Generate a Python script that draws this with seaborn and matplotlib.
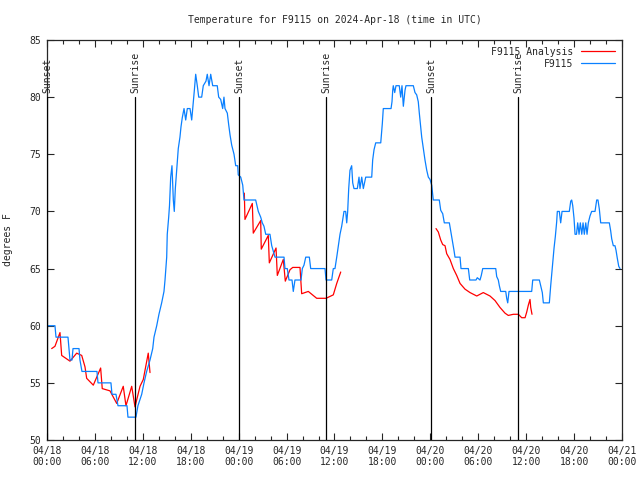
import pandas as pd
import numpy as np
import seaborn as sns
import matplotlib.pyplot as plt
import matplotlib.dates as mdates

# hours after 2024-04-18 00:00 UTC
blue_h = [0, 1.00, 1.13, 2.63, 2.75, 2.88, 3.13, 3.26, 4.01, 4.13, 4.38, 6.26, 6.39, 8.01, 8.14,
          8.64, 8.89, 10.02, 10.14, 11.14, 11.39, 11.86, 12.15, 12.48, 12.90, 13.24, 13.40, 13.74,
          14.02, 14.36, 14.65, 14.78, 14.99, 15.06, 15.24, 15.34, 15.49, 15.65, 15.82, 15.94, 16.07,
          16.24, 16.44, 16.65, 16.78, 16.94, 17.16, 17.37, 17.57, 17.91, 18.12, 18.32, 18.44, 18.62,
          18.82, 19.00, 19.37, 19.57, 19.91, 20.07, 20.29, 20.50, 20.75, 21.32, 21.50, 21.75, 22.00,
          22.16, 22.29, 22.58, 22.75, 22.92, 23.13, 23.42, 23.63, 23.88, 23.95, 24.26, 24.51, 24.67,
          26.13, 26.46, 26.76, 26.96, 27.17, 27.39, 27.92, 28.14, 28.34, 28.55, 29.68, 29.80, 30.09,
          30.30, 30.68, 30.84, 31.05, 31.81, 31.97, 32.18, 32.40, 32.85, 33.02, 34.81, 34.94, 35.65,
          35.85, 36.06, 36.28, 36.48, 36.69, 36.90, 37.19, 37.40, 37.53, 37.65, 37.78, 37.94, 38.15,
          38.28, 38.44, 38.86, 39.07, 39.19, 39.41, 39.61, 39.91, 40.66, 40.78, 40.95, 41.16, 41.79,
          41.99, 42.11, 43.08, 43.20, 43.29, 43.36, 43.54, 43.70, 43.86, 44.11, 44.29, 44.45, 44.62,
          44.83, 44.95, 45.87, 46.08, 46.29, 46.49, 46.62, 46.79, 46.92, 47.12, 47.33, 47.55, 47.75,
          47.96, 48.17, 48.37, 49.12, 49.30, 49.55, 49.75, 50.38, 50.55, 50.75, 50.96, 51.09, 51.72,
          51.84, 52.76, 52.93, 53.72, 53.88, 54.22, 54.38, 54.56, 56.19, 56.31, 56.51, 56.64, 56.81,
          57.44, 57.56, 57.69, 57.85, 60.69, 60.82, 61.65, 61.82, 62.02, 62.15, 62.90, 63.07, 63.20,
          63.32, 63.49, 63.65, 63.82, 63.90, 64.15, 64.32, 64.49, 65.40, 65.58, 65.70, 65.83, 65.99,
          66.12, 66.30, 66.45, 66.62, 66.78, 66.96, 67.12, 67.28, 67.46, 67.62, 67.78, 67.99, 68.20,
          68.62, 68.83, 68.99, 69.16, 69.33, 70.41, 70.58, 70.71, 70.91, 71.12, 71.25, 71.41, 71.59,
          71.75]
blue_t = [60, 60, 59, 59, 58, 57, 57, 58, 58, 57, 56, 56, 55, 55, 54,
          54, 53, 53, 52, 52, 53, 54, 55, 56, 57, 58, 59, 60,
          61, 62, 63, 64, 66, 68, 69.5, 70.5, 73, 74, 71, 70, 72,
          73.6, 75.5, 76.5, 77.4, 78.2, 79, 78, 79, 79, 78, 79.5, 80.5, 82,
          81, 80, 80, 81, 81.4, 82, 81, 82, 81, 81, 80, 79.8, 79,
          80, 79, 78.6, 77.6, 76.7, 75.8, 75, 74, 74, 73.2, 73, 72.3, 71,
          71, 70, 69.5, 69, 68.7, 68, 68, 67, 66.5, 66, 66, 65, 65,
          64, 64, 63, 64, 64, 65, 65.3, 66, 66, 65, 65, 64, 64,
          65, 65, 66, 67, 68, 68.7, 70, 70, 69, 70, 72, 73.6, 74,
          72.5, 72, 72, 73, 72, 73, 72, 73, 73, 74.5, 75.4, 76, 76,
          77.7, 79, 79, 79.6, 80.6, 81, 80.4, 81, 81, 81, 80, 81, 79.2,
          80.6, 81, 81, 80.4, 80.2, 79.6, 78.6, 77.4, 76.5, 75.5, 74.5, 73.6, 73,
          72.8, 72.3, 71, 71, 70.1, 69.8, 69, 69, 68.3, 67.5, 66.6, 66, 66,
          65, 65, 64, 64, 64.2, 64, 64.4, 65, 65, 64.3, 64, 63.5, 63,
          63, 62.4, 62, 63, 63, 64, 64, 63.5, 62.9, 62, 62, 63.5, 64.5,
          65.5, 66.8, 67.8, 69.1, 70, 70, 69, 70, 70, 70.9, 71, 70.5, 69.4,
          68, 68, 69, 68, 69, 68, 69, 68, 69, 68, 69, 69.6, 70,
          70, 71, 71, 70.2, 69, 69, 68.3, 67.6, 67, 67, 66.6, 65.9, 65.2,
          65]

# analysis series, three pieces
red1_h = [0.59, 1.00, 1.63, 1.84, 2.88, 3.72, 4.35, 4.76, 4.97, 5.80, 6.72, 6.92, 7.89, 8.73,
          9.55, 9.89, 10.61, 11.02, 11.65, 12.06, 12.68, 12.90]
red1_t = [58.0, 58.2, 59.4, 57.4, 56.9, 57.6, 57.4, 56.4, 55.4, 54.8, 56.3, 54.5, 54.3, 53.2,
          54.7, 53.0, 54.7, 52.9, 54.7, 55.3, 57.6, 55.9]
red2_h = [24.71, 24.79, 25.71, 25.83, 26.76, 26.83, 27.71, 27.84, 28.68, 28.84, 29.59, 29.84,
          30.43, 30.77, 31.68, 31.89, 32.72, 33.77, 34.94, 35.85, 36.28, 36.78]
red2_t = [71.6, 69.3, 70.7, 68.1, 69.2, 66.7, 67.9, 65.5, 66.8, 64.4, 65.8, 63.9,
          64.9, 65.1, 65.1, 62.8, 63.0, 62.4, 62.4, 62.7, 63.7, 64.7]
red3_h = [48.71, 49.00, 49.30, 49.55, 49.84, 50.05, 50.46, 50.88, 51.30, 51.72, 52.34, 52.97,
          53.81, 54.63, 55.47, 56.10, 56.72, 57.35, 57.76, 58.39, 59.02, 59.44, 59.86, 60.07,
          60.27, 60.48, 60.57, 60.73]
red3_t = [68.5, 68.2, 67.5, 67.1, 67.0, 66.3, 65.8, 65.0, 64.4, 63.7, 63.2, 62.9,
          62.6, 62.9, 62.6, 62.2, 61.6, 61.1, 60.9, 61.0, 61.0, 60.7, 60.7, 61.2,
          61.8, 62.3, 61.6, 61.0]

sun_h = [0.05, 11.02, 24.04, 34.94, 48.08, 58.98]
sun_lbl = ["Sunset", "Sunrise", "Sunset", "Sunrise", "Sunset", "Sunrise"]

start = pd.Timestamp("2024-04-18 00:00")
def to_time(h):
    return start + pd.to_timedelta(np.array(h), unit="h")

sns.set_style("ticks")
plt.rcParams['font.family'] = ['DejaVu Sans Mono']
fs = 7

fig, ax = plt.subplots(figsize=(6.4, 4.8), dpi=100)
fig.subplots_adjust(left=0.0734, right=0.9719, top=0.9167, bottom=0.0833)

red = "#ff0000"
blue = "#0a80ff"
for i, (h, t) in enumerate([(red1_h, red1_t), (red2_h, red2_t), (red3_h, red3_t)]):
    sns.lineplot(x=to_time(h), y=t, ax=ax, color=red, lw=0.9, sort=False, estimator=None,
                 label="F9115 Analysis" if i == 0 else None)
sns.lineplot(x=to_time(blue_h), y=blue_t, ax=ax, color=blue, lw=0.9, sort=False,
             estimator=None, label="F9115")

for h, lbl in zip(sun_h, sun_lbl):
    x = to_time([h])[0]
    ax.plot([x, x], [50, 80], color="black", lw=0.9, zorder=5)
    ax.text(x, 80.4, lbl, rotation=90, ha="center", va="bottom", fontsize=fs)

ax.set_xlim(start, start + pd.Timedelta(hours=72))
ax.set_ylim(50, 85)
ax.set_yticks(range(50, 86, 5))
ax.xaxis.set_major_locator(mdates.HourLocator(byhour=[0, 6, 12, 18]))
ax.xaxis.set_minor_locator(mdates.HourLocator(interval=2))
ax.xaxis.set_major_formatter(mdates.DateFormatter("%m/%d\n%H:%M"))
ax.tick_params(which="both", direction="in", top=True, right=True, labelsize=fs, width=0.8)
ax.tick_params(which="major", length=5, pad=4)
ax.tick_params(which="minor", length=3)
ax.tick_params(axis="y", which="minor", left=False, right=False)
for s in ax.spines.values():
    s.set_linewidth(0.9)

ax.set_xlabel("")
ax.set_ylabel("degrees F", fontsize=fs, labelpad=12)
ax.set_title("Temperature for F9115 on 2024-Apr-18 (time in UTC)", fontsize=fs, pad=12)
ax.legend(loc="upper right", frameon=False, markerfirst=False, fontsize=fs,
          handlelength=3.5, borderaxespad=0.3, labelspacing=0.2)

fig.savefig("out.png", dpi=100)
